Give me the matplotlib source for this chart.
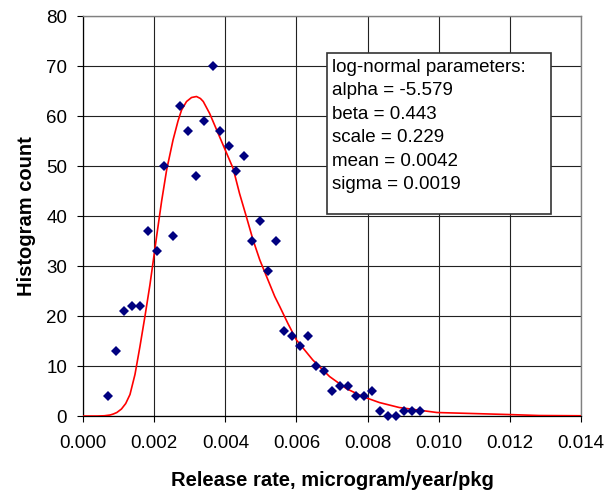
import matplotlib
matplotlib.use("Agg")
import matplotlib.pyplot as plt
from matplotlib.patches import Rectangle

plt.rcParams['font.family'] = ['Liberation Sans', 'DejaVu Sans']

# Histogram data (release rate bins, counts)
release_rate = [0.00071, 0.00094, 0.00115, 0.00137, 0.00161, 0.00183, 0.00207, 0.00228,
                0.00252, 0.00272, 0.00294, 0.00318, 0.00340, 0.00364, 0.00385, 0.00410,
                0.00430, 0.00452, 0.00474, 0.00497, 0.00521, 0.00543, 0.00565, 0.00587,
                0.00609, 0.00633, 0.00656, 0.00678, 0.00699, 0.00723, 0.00745, 0.00767,
                0.00790, 0.00813, 0.00835, 0.00857, 0.00880, 0.00901, 0.00925, 0.00947]
hist_count = [4, 13, 21, 22, 22, 37, 33, 50,
              36, 62, 57, 48, 59, 70, 57, 54,
              49, 52, 35, 39, 29, 35, 17, 16,
              14, 16, 10, 9, 5, 6, 6, 4,
              4, 5, 1, 0, 0, 1, 1, 1]

# Fitted log-normal curve
fit_x = [0.0, 0.0004, 0.0006, 0.00076, 0.00085, 0.00095, 0.00108, 0.00120, 0.00132,
         0.00146, 0.00160, 0.00174, 0.00188, 0.00197, 0.00207, 0.00221, 0.00235, 0.00253,
         0.00267, 0.00277, 0.00291, 0.00305, 0.00319, 0.00330, 0.00338, 0.00356, 0.00380,
         0.00398, 0.00422, 0.00440, 0.00459, 0.00478, 0.00497, 0.00520, 0.00539, 0.00553,
         0.00576, 0.00600, 0.00646, 0.00693, 0.00740, 0.00786, 0.00833, 0.00889, 0.00995,
         0.01095, 0.01195, 0.01282, 0.01400]
fit_y = [0.0, 0.0, 0.05, 0.2, 0.4, 0.7, 1.4, 2.5, 4.3,
         8.3, 13.9, 19.9, 26.2, 30.8, 36.0, 43.0, 49.2, 55.2,
         59.0, 61.2, 62.9, 63.7, 63.9, 63.5, 62.9, 60.5, 56.5,
         53.5, 49.5, 44.5, 39.9, 35.2, 31.2, 27.2, 23.9, 21.9,
         18.5, 15.2, 11.2, 7.9, 5.5, 3.9, 2.7, 1.7, 0.7,
         0.5, 0.3, 0.1, 0.05]

x_ticks = [0.000, 0.002, 0.004, 0.006, 0.008, 0.010, 0.012, 0.014]
y_ticks = [0, 10, 20, 30, 40, 50, 60, 70, 80]

param_lines = ["log-normal parameters:",
               "alpha = -5.579",
               "beta = 0.443",
               "scale = 0.229",
               "mean = 0.0042",
               "sigma = 0.0019"]

fig = plt.figure(figsize=(6.15, 4.91), dpi=100)
ax = fig.add_axes([0.135, 0.1527, 0.8098, 0.8147])

ax.set_xlim(0, 0.014)
ax.set_ylim(0, 80)
ax.set_xticks(x_ticks)
ax.set_xticklabels([f"{v:.3f}" for v in x_ticks])
ax.set_yticks(y_ticks)

ax.grid(True, color='#222222', linewidth=0.8, zorder=0)
ax.set_axisbelow(True)
for s in ['top', 'right']:
    ax.spines[s].set_color('#808080')
    ax.spines[s].set_linewidth(1.0)
for s in ['left', 'bottom']:
    ax.spines[s].set_color('black')
    ax.spines[s].set_linewidth(0.9)

ax.tick_params(axis='both', direction='out', length=4.5, width=0.8,
               labelsize=13.5, colors='black')
ax.tick_params(axis='x', pad=9)
ax.tick_params(axis='y', pad=7)

ax.plot(fit_x, fit_y, color='#ff0000', linewidth=1.2, zorder=3)
ax.plot(release_rate, hist_count, linestyle='none', marker='D', markersize=4.6,
        color='#000080', markeredgewidth=0, zorder=4, clip_on=False)

ax.set_xlabel("Release rate, microgram/year/pkg", fontsize=14.5, fontweight='bold',
              labelpad=14)
ax.set_ylabel("Histogram count", fontsize=14.5, fontweight='bold', labelpad=7)

# Parameter box
box = Rectangle((0.49, 0.505), 0.45, 0.4025, transform=ax.transAxes,
                facecolor='white', edgecolor='#333333', linewidth=1.2, zorder=5)
ax.add_patch(box)
baselines_px = [71.7, 95.2, 118.7, 142.2, 165.7, 189.2]
for line, bpx in zip(param_lines, baselines_px):
    ax.text(0.4994, (416 - bpx) / 400, line, transform=ax.transAxes,
            fontsize=13.5, va='baseline', ha='left', zorder=6)

fig.savefig("out.png", dpi=100)
